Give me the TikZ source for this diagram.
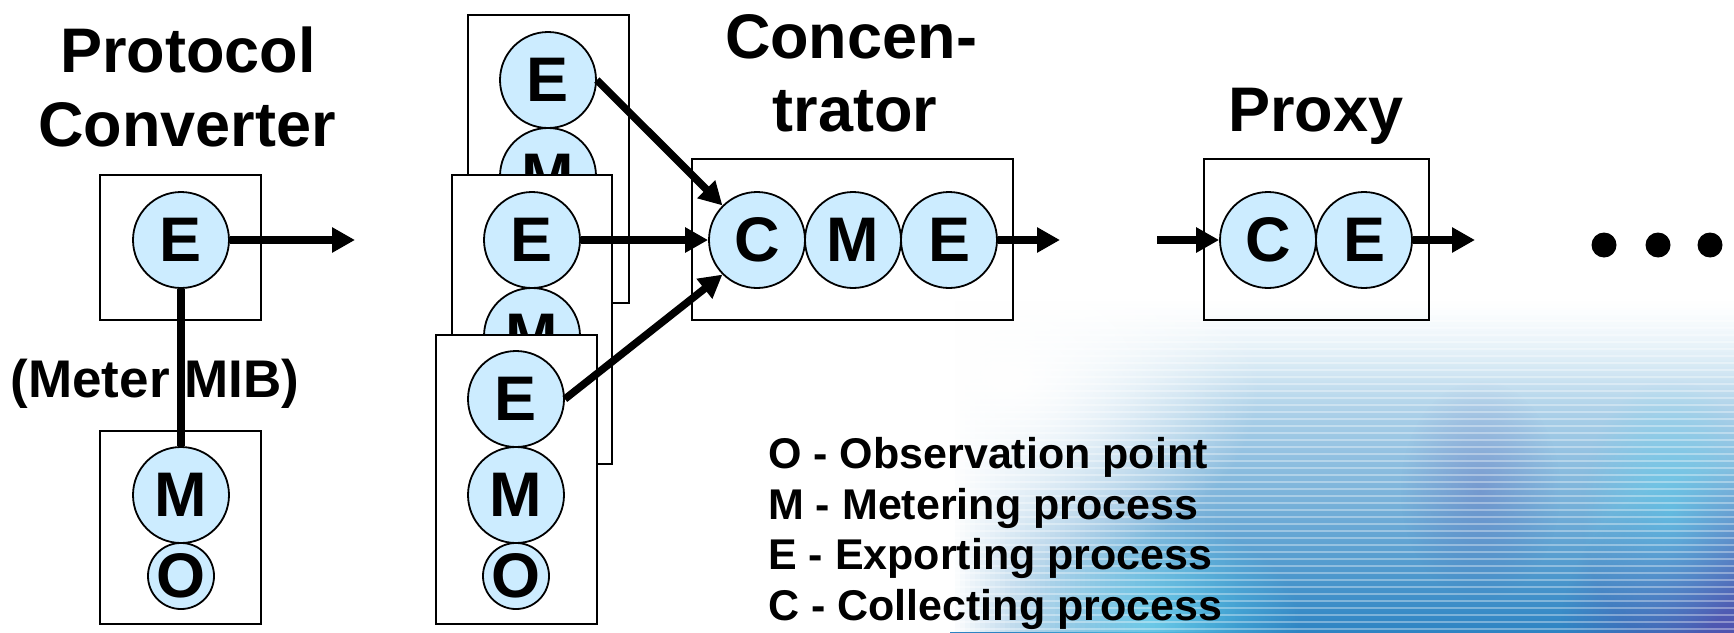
\documentclass[tikz,border=0pt]{standalone}
\usepackage{fontspec}
\setmainfont{Liberation Sans}
\usetikzlibrary{arrows.meta,fadings}

\definecolor{circfill}{RGB}{204,236,255}
\definecolor{bgA}{RGB}{234,246,251}
\definecolor{bgM}{RGB}{165,205,232}
\definecolor{bgB}{RGB}{45,132,195}
\definecolor{bgP}{RGB}{90,70,170}
\definecolor{bgC}{RGB}{90,215,240}

\tikzfading[name=radialfade, inner color=transparent!0, outer color=transparent!100]

\tikzset{
 proc/.style={circle, draw=black, line width=1.8pt, fill=circfill, minimum size=96pt, inner sep=0pt, font=\fontsize{63}{63}\selectfont\bfseries},
 smallproc/.style={proc, minimum size=64pt},
 frame/.style={draw=black, line width=2pt, inner sep=0pt},
 whiteframe/.style={frame, fill=white},
 conn/.style={line width=7.5pt},
 flow/.style={conn, -{Triangle[length=23pt, width=24pt]}},
 title/.style={font=\fontsize{63}{74}\selectfont\bfseries, inner sep=0pt, anchor=base},
 legend/.style={font=\fontsize{43}{50}\selectfont\bfseries, inner sep=0pt, anchor=base west},
 dot/.style={circle, fill=black, minimum size=25pt, inner sep=0pt},
}

\begin{document}
\begin{tikzpicture}[x=1pt, y=-1pt]
\useasboundingbox (0,0) rectangle (1734,632);
% decorative background
\begin{scope}
\clip (0,0) rectangle (1734,632);
\shade[top color=bgA, middle color=bgM, bottom color=bgB] (950,300) rectangle (1734,632);
\fill[bgP, path fading=radialfade, opacity=0.8] (1560,470) rectangle (1900,800);
\fill[bgP, path fading=radialfade, opacity=0.25] (1400,380) rectangle (1560,600);
\fill[bgC, path fading=radialfade, opacity=0.7] (1000,520) rectangle (1300,720);
\fill[bgC, path fading=radialfade, opacity=0.5] (1580,380) rectangle (1760,640);
\foreach \yy in {300,307,...,632} \draw[white, opacity=0.35, line width=2.2pt] (950,\yy) -- (1734,\yy);
% soft white edges (stepwise ramps)
\foreach \i in {0,...,59} {
  \pgfmathsetmacro{\op}{(1-\i/60)^1.6}
  \fill[white, opacity=\op] (950+\i*5,295) rectangle (955.2+\i*5,632);
}
\foreach \i in {0,...,39} {
  \pgfmathsetmacro{\op}{(1-\i/40)^1.4}
  \fill[white, opacity=\op] (950,298+\i*3) rectangle (1734,301.2+\i*3);
}
\fill[white, path fading=radialfade] (760,190) rectangle (1260,570);
\end{scope}

% titles
\node[title] (ttlA) at (188,72) {Protocol};
\node[title] (ttlB) at (187,146) {Converter};
\node[title] (ttlC) at (851,58) {Concen-};
\node[title] (ttlD) at (855,131) {trator};
\node[title] (ttlE) at (1316,131) {Proxy};

% protocol converter
\node[frame, minimum width=161pt, minimum height=145pt] (pcbox1) at (180.5,247.5) {};
\node[frame, minimum width=161pt, minimum height=193pt] (pcbox2) at (180.5,527.5) {};
\node[proc] (pce) at (181,240) {E};
\node[proc] (pcm) at (181,495) {M};
\node[smallproc] (pco) at (181,576) {O};
\draw[conn] (pce.south) -- (pcm.north);
\coordinate (pcout) at (355,240);
\draw[flow] (pce.east) -- (pcout);
\node[font=\fontsize{53}{53}\selectfont\bfseries, inner sep=0pt, anchor=base] (mib) at (155,397) {(Meter MIB)};

% stacked meters
\node[whiteframe, minimum width=161pt, minimum height=288pt] (sb1) at (548.5,159) {};
\node[proc] (e1) at (548,80) {E};
\node[proc] (m1) at (548,176) {M};
\node[whiteframe, minimum width=160pt, minimum height=289pt] (sb2) at (532,319.5) {};
\node[proc] (e2) at (532,240) {E};
\node[proc] (m2) at (532,336) {M};
\node[whiteframe, minimum width=161pt, minimum height=289pt] (sb3) at (516.5,479.5) {};
\node[proc] (e3) at (516,399) {E};
\node[proc] (m3) at (516,495) {M};
\node[smallproc] (o3) at (516,576) {O};

% concentrator
\node[frame, minimum width=321pt, minimum height=161pt] (cbox) at (852.5,239.5) {};
\node[proc] (cc) at (757,240) {C};
\node[proc] (cm) at (853,240) {M};
\node[proc] (ce) at (949,240) {E};
\coordinate (cout) at (1060,240);
\draw[flow] (ce.east) -- (cout);
\draw[flow] (e1.east) -- (cc.north west);
\draw[flow] (e2.east) -- (cc.west);
\draw[flow] (e3.east) -- (cc.south west);

% proxy
\node[frame, minimum width=225pt, minimum height=161pt] (pbox) at (1316.5,239.5) {};
\node[proc] (pc) at (1268,240) {C};
\node[proc] (pe) at (1364,240) {E};
\coordinate (pin) at (1157,240);
\coordinate (pout) at (1475,240);
\draw[flow] (pin) -- (pc.west);
\draw[flow] (pe.east) -- (pout);

% ellipsis
\node[dot] (d1) at (1604,245) {};
\node[dot] (d2) at (1658,245) {};
\node[dot] (d3) at (1710,245) {};

% legend
\node[legend] (lg1) at (768,468) {O - Observation point};
\node[legend] (lg2) at (768,519) {M - Metering process};
\node[legend] (lg3) at (768,569) {E - Exporting process};
\node[legend] (lg4) at (768,620) {C - Collecting process};
\end{tikzpicture}
\end{document}
